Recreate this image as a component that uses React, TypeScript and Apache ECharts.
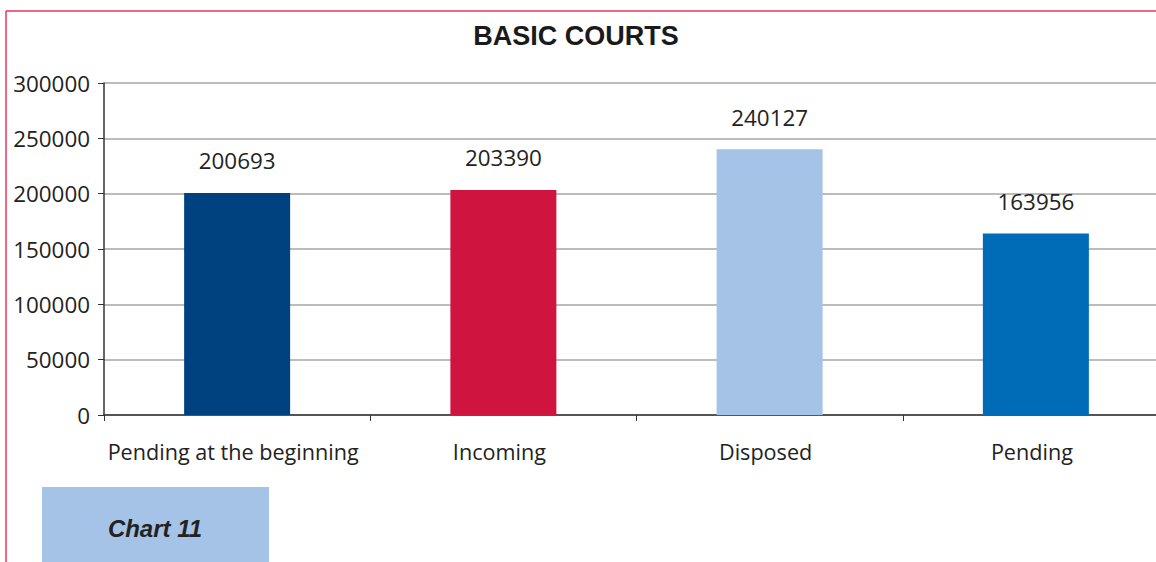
import React, { useEffect, useRef } from "react";
import * as echarts from "echarts";

const categories = ["Pending at the beginning", "Incoming", "Disposed", "Pending"];
const values = [200693, 203390, 240127, 163956];
const barColors = ["#00427f", "#cf1440", "#a5c3e6", "#006bb6"];
const yTicks = [0, 50000, 100000, 150000, 200000, 250000, 300000];

export default function App() {
  const ref = useRef<HTMLDivElement>(null);
  useEffect(() => {
    if (!ref.current) return;
    const chart = echarts.init(ref.current, undefined, { renderer: "svg" });
    const font = "'Open Sans', 'Noto Sans', sans-serif";
    chart.setOption({
      animation: false,
      backgroundColor: "#ffffff",
      title: {
        text: "BASIC COURTS",
        left: 571,
        top: 17,
        textAlign: "center",
        textStyle: { fontFamily: "Liberation Sans, Arial, sans-serif", fontWeight: "bold", fontSize: 27, color: "#1a1a1a" },
      },
      grid: { left: 104, top: 83, width: 1065, height: 332, containLabel: false },
      xAxis: {
        type: "category",
        data: categories,
        axisLine: { lineStyle: { color: "#333", width: 1.5 } },
        axisTick: { show: true, length: 6, lineStyle: { color: "#333" } },
        axisLabel: { interval: 0, fontFamily: font, fontSize: 21.6, color: "#222", margin: 25, padding: [0, 8, 0, 0] },
      },
      yAxis: {
        type: "value",
        min: yTicks[0],
        max: yTicks[yTicks.length - 1],
        interval: 50000,
        axisLine: { show: true, lineStyle: { color: "#333", width: 1.5 } },
        axisTick: { show: true, length: 6, lineStyle: { color: "#333" } },
        splitLine: { lineStyle: { color: "#a6a6a6", width: 1.5 } },
        axisLabel: { fontFamily: font, fontSize: 22.4, color: "#222", margin: 14, formatter: (v: number) => String(v) },
      },
      series: [
        {
          type: "bar",
          barWidth: 106,
          data: values.map((v, i) => ({ value: v, itemStyle: { color: barColors[i] } })),
          label: { show: true, position: "top", distance: 21, fontFamily: font, fontSize: 22.4, color: "#222", formatter: (p: any) => String(p.value) },
        },
      ],
      graphic: [
        { type: "line", shape: { x1: 6, y1: 11, x2: 1200, y2: 11 }, style: { stroke: "#e8365a", lineWidth: 1.5 } },
        { type: "line", shape: { x1: 6, y1: 11, x2: 6, y2: 562 }, style: { stroke: "#e8365a", lineWidth: 1.5 } },
        { type: "rect", shape: { x: 42, y: 487, width: 227, height: 75 }, style: { fill: "#a5c3e6" } },
        {
          type: "text",
          x: 155,
          y: 528,
          style: {
            text: "Chart 11",
            fontFamily: "Liberation Sans, Arial, sans-serif",
            fontWeight: "bold",
            fontStyle: "italic",
            fontSize: 24,
            fill: "#222",
            textAlign: "center",
            textVerticalAlign: "middle",
          },
        },
      ],
    });
    return () => chart.dispose();
  }, []);
  return (
    <div style={{ position: "fixed", left: 0, top: 0, width: 1156, height: 562, overflow: "hidden" }}>
      <div ref={ref} style={{ width: 1200, height: 562 }} />
    </div>
  );
}
